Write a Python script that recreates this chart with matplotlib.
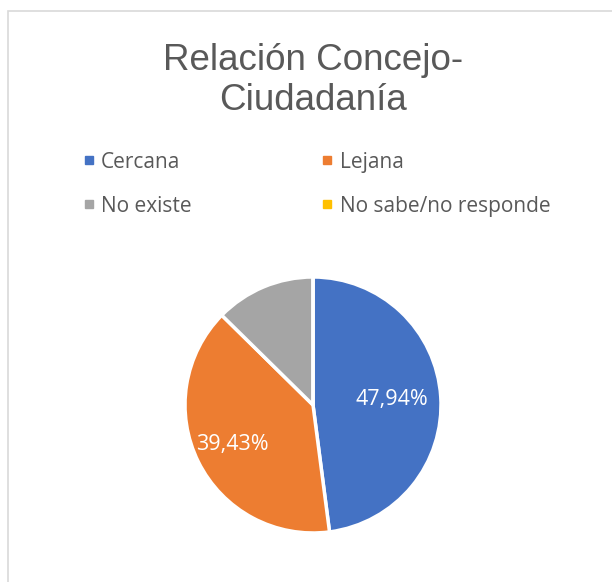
import matplotlib
matplotlib.use("Agg")
import matplotlib.pyplot as plt
import numpy as np
from matplotlib.lines import Line2D
from matplotlib.patches import Rectangle

# Datos
categorias = ["Cercana", "Lejana", "No existe", "No sabe/no responde"]
porcentajes = [47.94, 39.43, 12.63, 0.0]
colores = ["#4472C4", "#ED7D31", "#A5A5A5", "#FFC000"]
etiquetas = ["47,94%", "39,43%", "", ""]

fig = plt.figure(figsize=(6.12, 5.82), dpi=100)

# marco del área del gráfico
fig.patches.append(Rectangle((8 / 612, -0.1), 1.2, 1 - 11 / 582 + 0.1,
                             transform=fig.transFigure, fill=False,
                             edgecolor="#D9D9D9", linewidth=1.2))

fig.text(0.512, 1 - 43 / 582, "Relación Concejo-\nCiudadanía", ha="center",
         va="top", fontsize=26.5, color="#595959",
         family="Liberation Sans", linespacing=1.18)

ax = fig.add_axes([0.3023, 0.0842, 0.4183, 0.4399])
wedges, _ = ax.pie(porcentajes, colors=colores, startangle=90,
                   counterclock=False,
                   wedgeprops=dict(edgecolor="white", linewidth=2.5))
ax.set_xlim(-1, 1)
ax.set_ylim(-1, 1)
ax.set_aspect("equal")
ax.axis("off")

dist = [0.62, 0.70, 0.6, 0.6]
for w, txt, d in zip(wedges, etiquetas, dist):
    if not txt:
        continue
    ang = np.deg2rad((w.theta1 + w.theta2) / 2)
    ax.text(d * np.cos(ang), d * np.sin(ang), txt, ha="center", va="center",
            color="white", fontsize=15.5, family="Open Sans")

# leyenda en dos columnas, llenada por filas como en el original
orden = [0, 2, 1, 3]
handles = [Line2D([], [], marker="s", linestyle="", markersize=6,
                  markerfacecolor=colores[i], markeredgecolor=colores[i])
           for i in orden]
fig.legend(handles, [categorias[i] for i in orden], ncol=2, loc="upper left",
           bbox_to_anchor=(0.104, 1 - 133 / 582), frameon=False,
           prop=dict(family="Open Sans", size=15), labelcolor="#595959",
           handlelength=0.6, handletextpad=0.3, columnspacing=6.2,
           labelspacing=1.1)

plt.savefig("out.png", dpi=100)
